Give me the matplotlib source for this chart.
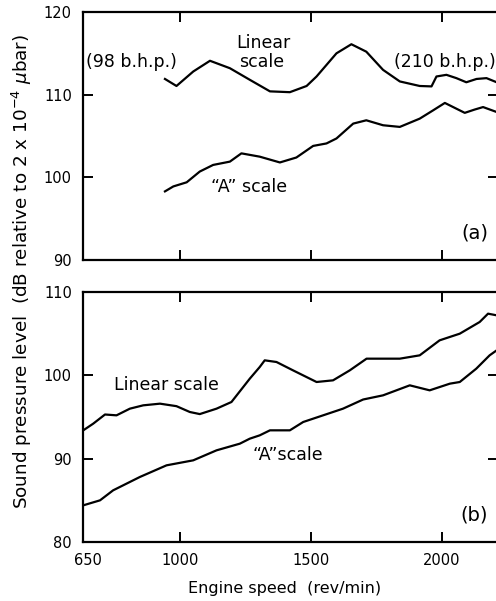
import matplotlib
matplotlib.use("Agg")
import matplotlib.pyplot as plt

# ---- data ----
top_lin_rpm = [943, 987, 1051, 1115, 1191, 1267, 1344, 1420, 1484, 1522, 1560, 1598, 1655,
               1712, 1776, 1840, 1916, 1961, 1980, 2018, 2056, 2094, 2133, 2171, 2210]
top_lin_db = [111.9, 111.05, 112.8, 114.1, 113.2, 111.8, 110.4, 110.3, 111.05, 112.2, 113.6,
              115.0, 116.1, 115.2, 113.0, 111.6, 111.05, 111.0, 112.2, 112.4, 112.0, 111.5,
              111.9, 112.0, 111.5]

top_a_rpm = [943, 975, 1026, 1076, 1127, 1191, 1235, 1305, 1382, 1445, 1509, 1560, 1598, 1662,
             1712, 1776, 1840, 1916, 1967, 2012, 2050, 2088, 2126, 2158, 2210]
top_a_db = [98.3, 98.9, 99.4, 100.7, 101.5, 101.9, 102.9, 102.5, 101.8, 102.4, 103.8, 104.1,
            104.7, 106.5, 106.9, 106.3, 106.1, 107.1, 108.1, 109.0, 108.4, 107.8, 108.2,
            108.5, 107.9]

bot_lin_rpm = [631, 669, 714, 758, 809, 860, 924, 987, 1038, 1076, 1140, 1197, 1242, 1267,
               1305, 1324, 1369, 1432, 1522, 1585, 1649, 1713, 1776, 1840, 1916, 1992, 2069,
               2145, 2177, 2210]
bot_lin_db = [93.4, 94.2, 95.3, 95.2, 96.0, 96.4, 96.6, 96.3, 95.6, 95.35, 96.0, 96.8, 98.6,
              99.6, 101.0, 101.8, 101.6, 100.6, 99.2, 99.4, 100.6, 102.0, 102.0, 102.0, 102.4,
              104.2, 105.0, 106.4, 107.4, 107.2]

bot_a_rpm = [631, 695, 745, 847, 949, 1051, 1140, 1229, 1267, 1305, 1344, 1420, 1471, 1547,
             1623, 1700, 1776, 1878, 1954, 2031, 2069, 2132, 2183, 2210]
bot_a_db = [84.4, 85.0, 86.2, 87.8, 89.2, 89.8, 91.0, 91.8, 92.4, 92.8, 93.4, 93.4, 94.4,
            95.2, 96.0, 97.1, 97.6, 98.8, 98.2, 99.0, 99.2, 100.8, 102.4, 103.0]

x_ticks = [650, 1000, 1500, 2000]
x_tick_labels = ["650", "1000", "1500", "2000"]
top_yticks = [90, 100, 110, 120]
bot_yticks = [80, 90, 100, 110]

plt.rcParams['font.family'] = ['DejaVu Sans']
fig = plt.figure(figsize=(4.96, 6.01), dpi=100)

W, H = 496, 601
left = 83 / W
width = 415 / W
ax1 = fig.add_axes([left, 1 - 260 / H, width, 248 / H])
ax2 = fig.add_axes([left, 1 - 542 / H, width, 250 / H])

lw = 1.6
for ax in (ax1, ax2):
    ax.set_xlim(630, 2215)
    ax.tick_params(direction='in', length=7, width=1.4, top=True, right=True,
                   labelsize=10.5, pad=8)
    for s in ax.spines.values():
        s.set_linewidth(1.6)

ax1.plot(top_lin_rpm, top_lin_db, color='black', lw=lw)
ax1.plot(top_a_rpm, top_a_db, color='black', lw=lw)
ax1.set_ylim(90, 120)
ax1.set_yticks(top_yticks)
ax1.set_xticks(x_ticks[1:])
ax1.set_xticklabels([])

ax2.plot(bot_lin_rpm, bot_lin_db, color='black', lw=lw)
ax2.plot(bot_a_rpm, bot_a_db, color='black', lw=lw)
ax2.set_ylim(80, 110)
ax2.set_yticks(bot_yticks)
ax2.set_xticks(x_ticks)
ax2.set_xticklabels(x_tick_labels)
t0 = ax2.xaxis.get_major_ticks()[0]
t0.tick1line.set_visible(False)
t0.tick2line.set_visible(False)

fs = 12.5
# annotations (figure pixel coordinates, top-left origin)
def ftext(x, y, s, **kw):
    fig.text(x / W, 1 - y / H, s, fontsize=kw.pop('fontsize', fs), va='center', **kw)

ftext(86, 62, "(98 b.h.p.)", ha='left')
ftext(236, 43, "Linear", ha='left')
ftext(239, 62, "scale", ha='left')
ftext(394, 62, "(210 b.h.p.)", ha='left')
ftext(211, 187, "\u201cA\u201d scale", ha='left')
ftext(488, 233, "(a)", ha='right', fontsize=14)
ftext(114, 385, "Linear scale", ha='left')
ftext(252, 455, "\u201cA\u201dscale", ha='left')
ftext(488, 515, "(b)", ha='right', fontsize=14)

ftext(285, 588, "Engine speed  (rev/min)", ha='center', fontsize=11.5)
fig.text(22 / W, 1 - 271 / H,
         r"Sound pressure level  (dB relative to 2 x 10$^{-4}$ $\mu$bar)",
         rotation=90, ha='center', va='center', fontsize=13.2)

fig.savefig("out.png", dpi=100)
